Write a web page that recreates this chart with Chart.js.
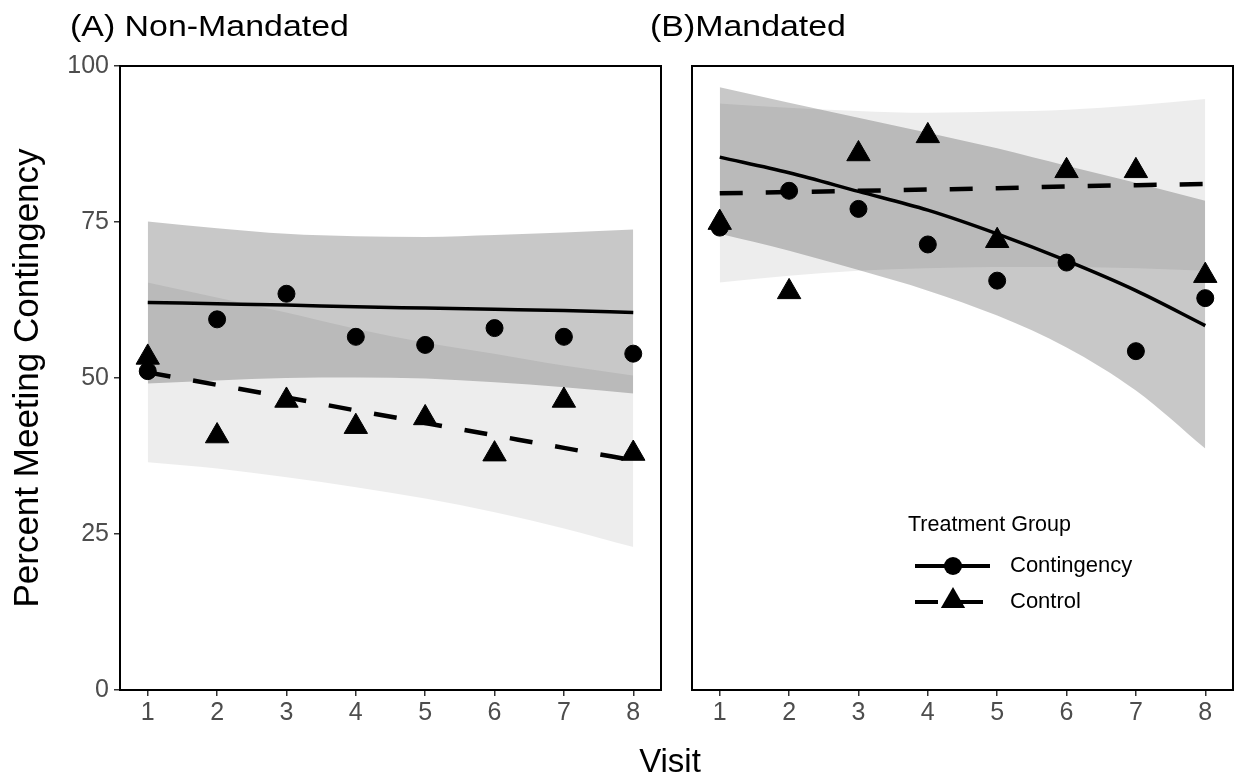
<!DOCTYPE html>
<html>
<head>
<meta charset="utf-8">
<title>Percent Meeting Contingency</title>
<script src="https://cdn.jsdelivr.net/npm/chart.js"></script>
<style>
  body { margin: 0; background: #fff; font-family: "Liberation Sans", Arial, sans-serif; }
  #page { position: relative; width: 1237px; height: 777px; overflow: hidden; }
  .panel { position: absolute; top: 0; height: 777px; }
  .ptitle { position: absolute; top: 11px; font-size: 30px; line-height: 30px; color: #000;
            transform: scaleX(1.13); transform-origin: left top; white-space: nowrap; }
  #xtitle { position: absolute; top: 744px; left: 570px; width: 200px; text-align: center;
            font-size: 33px; line-height: 33px; color: #000; }
</style>
</head>
<body>
<div id="page">
  <div class="panel" style="left:0;width:670px;"><canvas id="chartA"></canvas></div>
  <div class="panel" style="left:680px;width:557px;"><canvas id="chartB"></canvas></div>
  <div class="ptitle" style="left:70px;">(A) Non-Mandated</div>
  <div class="ptitle" style="left:650px;">(B)Mandated</div>
  <div id="xtitle">Visit</div>
</div>

<script>
// visits on the x axis
var visits = [1, 2, 3, 4, 5, 6, 7, 8];
var yTicks = [0, 25, 50, 75, 100];

// (A) Non-Mandated
var aContPts = [51.1, 59.4, 63.5, 56.6, 55.3, 58.0, 56.6, 53.9];
var aCtrlPts = [53.3, 40.7, 46.4, 42.2, 43.6, 37.8, 46.4, 37.9];
var aContFit = [62.1, 61.9, 61.7, 61.4, 61.2, 61.0, 60.8, 60.5];
var aCtrlFit = [50.9, 48.9, 46.9, 44.8, 42.8, 40.8, 38.8, 36.8];
var aContLo = [49.1, 49.6, 50.0, 50.1, 49.9, 49.3, 48.5, 47.5];
var aContHi = [75.1, 74.0, 73.1, 72.7, 72.6, 72.9, 73.3, 73.8];
var aCtrlLo = [36.5, 35.5, 34.1, 32.5, 30.7, 28.5, 25.9, 22.9];
var aCtrlHi = [65.3, 62.9, 60.5, 57.9, 55.7, 53.9, 52.0, 50.4];

// (B) Mandated
var bContPts = [74.1, 80.0, 77.1, 71.4, 65.6, 68.5, 54.3, 62.8];
var bCtrlPts = [74.9, 63.8, 85.9, 88.8, 72.0, 83.2, 83.2, 66.4];
var bContFit = [85.4, 82.9, 79.9, 76.9, 73.1, 68.8, 64.0, 58.4];
var bCtrlFit = [79.6, 79.8, 80.0, 80.2, 80.4, 80.7, 80.9, 81.1];
var bContLo = [73.1, 70.4, 67.3, 64.0, 60.0, 54.9, 48.0, 38.7];
var bContHi = [96.6, 94.1, 91.7, 89.3, 86.8, 84.0, 81.3, 78.4];
var bCtrlLo = [65.3, 66.4, 67.2, 67.6, 67.8, 67.8, 67.6, 67.2];
var bCtrlHi = [94.0, 93.3, 92.8, 92.5, 92.7, 93.0, 93.7, 94.7];

var groups = ["Contingency", "Control"];

var FONT = '"Liberation Sans", Arial, sans-serif';
var CONT_FILL = 'rgba(0,0,0,0.215)';
var CTRL_FILL = 'rgba(0,0,0,0.07)';

function xy(arr) {
    return visits.map(function(v, i) { return { x: v, y: arr[i] }; });
}

function buildDatasets(contPts, ctrlPts, contFit, ctrlFit, contLo, contHi, ctrlLo, ctrlHi) {
    var band = { pointRadius: 0, borderWidth: 0, borderColor: 'transparent', cubicInterpolationMode: 'monotone' };
    return [
        { label: groups[0], data: xy(contPts), showLine: false, pointStyle: 'circle', pointRadius: 8.5,
          pointBackgroundColor: '#000', pointBorderColor: '#000', pointBorderWidth: 1 },
        { label: groups[1], data: xy(ctrlPts), showLine: false, pointStyle: 'triangle', pointRadius: 13.5,
          pointBackgroundColor: '#000', pointBorderColor: '#000', pointBorderWidth: 1 },
        { label: 'fit1', data: xy(contFit), borderColor: '#000', borderWidth: 3.5, pointRadius: 0,
          cubicInterpolationMode: 'monotone', fill: false },
        { label: 'fit2', data: xy(ctrlFit), borderColor: '#000', borderWidth: 4.5, borderDash: [23, 23],
          borderCapStyle: 'butt', pointRadius: 0, cubicInterpolationMode: 'monotone', fill: false },
        Object.assign({ label: 'lo1', data: xy(contLo), fill: false }, band),
        Object.assign({ label: 'hi1', data: xy(contHi), fill: 4, backgroundColor: CONT_FILL }, band),
        Object.assign({ label: 'lo2', data: xy(ctrlLo), fill: false }, band),
        Object.assign({ label: 'hi2', data: xy(ctrlHi), fill: 6, backgroundColor: CTRL_FILL }, band)
    ];
}

// box around the panel
var boxPlugin = {
    id: 'box',
    afterDraw: function(chart) {
        var a = chart.chartArea, ctx = chart.ctx;
        ctx.save();
        ctx.strokeStyle = '#000';
        ctx.lineWidth = 2;
        ctx.strokeRect(a.left, a.top, a.right - a.left, a.bottom - a.top);
        ctx.restore();
    }
};

// legend inside panel B
var legendPlugin = {
    id: 'treatLegend',
    afterDraw: function(chart) {
        var ctx = chart.ctx;
        var x0 = 235, x1 = 310, xm = 273, tx = 330;
        ctx.save();
        ctx.fillStyle = '#000';
        ctx.textBaseline = 'middle';
        ctx.font = '21.5px ' + FONT;
        ctx.fillText('Treatment Group', 228, 525);

        ctx.font = '22px ' + FONT;
        ctx.strokeStyle = '#000';
        ctx.lineWidth = 4;
        ctx.beginPath(); ctx.moveTo(x0, 566); ctx.lineTo(x1, 566); ctx.stroke();
        ctx.beginPath(); ctx.arc(xm, 566, 9, 0, Math.PI * 2); ctx.fill();
        ctx.fillText(groups[0], tx, 566);

        ctx.setLineDash([23, 22]);
        ctx.beginPath(); ctx.moveTo(x0, 602); ctx.lineTo(x1, 602); ctx.stroke();
        ctx.setLineDash([]);
        var r = 14;
        ctx.beginPath();
        ctx.moveTo(xm, 601 - r);
        ctx.lineTo(xm + r * Math.sqrt(3) / 2, 601 + r / 2);
        ctx.lineTo(xm - r * Math.sqrt(3) / 2, 601 + r / 2);
        ctx.closePath(); ctx.fill();
        ctx.fillText(groups[1], tx, 602);
        ctx.restore();
    }
};

function xScale() {
    return {
        type: 'linear', min: 0.6, max: 8.4,
        afterBuildTicks: function(s) { s.ticks = visits.map(function(v) { return { value: v }; }); },
        afterFit: function(s) { s.height = 87; s.paddingLeft = 0; s.paddingRight = 0; },
        ticks: { color: '#4d4d4d', font: { family: FONT, size: 25 }, padding: 2, maxRotation: 0 },
        grid: { drawOnChartArea: false, drawTicks: true, tickLength: 6, color: '#333', lineWidth: 1.5 },
        border: { display: false }
    };
}

function makeChart(id, datasets, showY, padding, extraPlugins) {
    var yAxis = {
        type: 'linear', min: 0, max: 100, display: showY,
        afterBuildTicks: function(s) { s.ticks = yTicks.map(function(v) { return { value: v }; }); },
        afterFit: function(s) { s.width = showY ? 120 : 0; s.paddingTop = 0; s.paddingBottom = 0; },
        ticks: { color: '#4d4d4d', font: { family: FONT, size: 25 }, padding: 5 },
        grid: { drawOnChartArea: false, drawTicks: true, tickLength: 6, color: '#333', lineWidth: 1.5 },
        border: { display: false },
        title: { display: true, text: 'Percent Meeting Contingency', color: '#000',
                 font: { family: FONT, size: 35 }, padding: { top: 7, bottom: 0 } }
    };
    return new Chart(document.getElementById(id).getContext('2d'), {
        type: 'line',
        data: { datasets: datasets },
        options: {
            responsive: true,
            maintainAspectRatio: false,
            animation: false,
            events: [],
            layout: { padding: padding, autoPadding: false },
            plugins: { legend: { display: false }, tooltip: { enabled: false },
                       filler: { propagate: false } },
            scales: { x: xScale(), y: yAxis }
        },
        plugins: [boxPlugin].concat(extraPlugins)
    });
}

makeChart('chartA',
    buildDatasets(aContPts, aCtrlPts, aContFit, aCtrlFit, aContLo, aContHi, aCtrlLo, aCtrlHi),
    true, { top: 66, right: 9, left: 0, bottom: 0 }, []);

makeChart('chartB',
    buildDatasets(bContPts, bCtrlPts, bContFit, bCtrlFit, bContLo, bContHi, bCtrlLo, bCtrlHi),
    false, { top: 66, right: 4, left: 12, bottom: 0 }, [legendPlugin]);
</script>
</body>
</html>
